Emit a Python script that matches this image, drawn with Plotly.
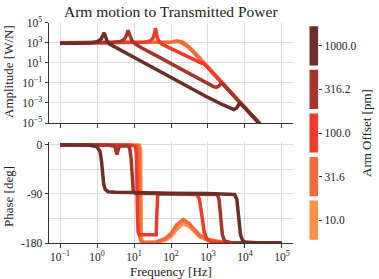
import plotly.graph_objects as go

# ---------------- data ----------------
offsets = ["10.0", "31.6", "100.0", "316.2", "1000.0"]
colors = ["#f8914a", "#f4693b", "#ee3b2a", "#a8352b", "#6b2e28"]

# amplitude [W/N] vs frequency [Hz]
f_amp_10 = [0.1, 10, 63.1, 100, 141, 174, 200, 240, 288, 355, 447, 562, 1000, 3162, 10000, 31623, 100000]
amp_10 = [1000, 1000, 1050, 1150, 1320, 1410, 1260, 891, 525, 240, 100, 40, 3.55, 0.0355, 3.55e-4, 3.55e-6, 3.55e-8]

f_amp_31 = [0.1, 10, 63.1, 100, 126, 148, 174, 209, 263, 324, 398, 501, 1000, 3162, 10000, 31623, 100000]
amp_31 = [1000, 1000, 1050, 1200, 1410, 1480, 1260, 891, 501, 263, 126, 50, 3.16, 0.0316, 3.16e-4, 3.16e-6, 3.16e-8]

f_amp_100 = [0.1, 10, 20, 28.2, 33.1, 36.3, 38.0, 39.8, 42.7, 47.9, 56.2, 100, 174, 324, 501, 603, 692, 759, 851, 1000, 3162, 10000, 31623, 100000]
amp_100 = [1000, 1000, 1120, 1580, 3160, 10000, 28200, 12600, 3160, 1260, 760, 263, 98, 31.6, 14.1, 9.5, 8.9, 9.5, 6.2, 3.24, 0.0324, 3.24e-4, 3.24e-6, 3.24e-8]

f_amp_316 = [0.1, 1.0, 2.51, 3.98, 5.25, 6.03, 6.61, 6.92, 7.24, 7.94, 8.91, 11.2, 15.8, 31.6, 100, 174, 324, 490, 794, 1122, 1413, 1698, 1995, 2291, 2512, 2818, 3162, 10000, 31623, 100000]
amp_316 = [950, 1000, 1050, 1260, 2000, 3980, 10000, 17800, 10000, 3160, 1410, 708, 316, 83, 8.3, 2.8, 0.79, 0.38, 0.141, 0.063, 0.042, 0.035, 0.050, 0.095, 0.083, 0.052, 0.032, 3.24e-4, 3.24e-6, 3.24e-8]

f_amp_1000 = [0.1, 0.316, 0.631, 1.0, 1.26, 1.41, 1.55, 1.66, 1.86, 2.24, 3.16, 5.62, 10, 31.6, 100, 174, 324, 1000, 2570, 3980, 5010, 6030, 7080, 7940, 8910, 10000, 31600, 100000]
amp_1000 = [890, 890, 955, 1260, 2240, 4470, 10000, 5010, 1580, 708, 355, 120, 35.5, 3.16, 0.316, 0.105, 0.030, 3.55e-3, 6.3e-4, 2.8e-4, 2.24e-4, 3.16e-4, 8.9e-4, 7.1e-4, 5.0e-4, 3.24e-4, 3.24e-6, 3.24e-8]

# phase [deg] vs frequency [Hz]
f_ph_10 = [0.1, 14.1, 15.1, 15.8, 17.0, 39.8, 69.2, 100, 141, 214, 316, 447, 603, 1000, 1549, 3162, 100000]
ph_10 = [0, -1, -10, -170, -179, -179, -175, -168, -155, -144, -150, -161, -169, -175, -177.5, -179, -180]

f_ph_31 = [0.1, 12.6, 13.8, 14.5, 15.8, 39.8, 69.2, 100, 141, 214, 316, 447, 603, 1000, 1549, 3162, 100000]
ph_31 = [0, -1, -10, -170, -179, -178, -172, -163, -147, -137, -145, -157, -166, -173, -176, -179, -180]

f_ph_100 = [0.1, 7.94, 11.0, 11.7, 12.3, 12.9, 13.8, 39.8, 40.7, 41.7, 43.7, 50.1, 501, 589, 692, 794, 933, 1259, 2512, 100000]
ph_100 = [0, -0.5, -3, -20, -120, -160, -165, -165, -140, -100, -92, -90, -91, -100, -130, -160, -173, -178, -179.5, -180]

f_ph_316 = [0.1, 2.0, 3.02, 3.31, 3.47, 3.63, 3.98, 6.31, 7.59, 8.32, 8.91, 9.55, 11.2, 100, 1413, 1778, 1995, 2239, 2455, 2818, 3981, 100000]
ph_316 = [0, -0.5, -3, -12, -18, -12, -3, -2, -5, -25, -65, -85, -89, -89.5, -90, -91, -100, -135, -165, -176, -179, -180]

f_ph_1000 = [0.1, 0.316, 0.631, 1.0, 1.2, 1.32, 1.41, 1.51, 1.66, 2.0, 3.16, 10, 100, 1000, 5250, 6030, 6920, 7590, 8710, 10000, 20000, 100000]
ph_1000 = [0, -0.5, -1, -4, -12, -30, -55, -72, -82, -86, -87, -88, -89, -89.5, -91, -100, -135, -165, -176, -178, -179.5, -180]

amp_freqs = [f_amp_10, f_amp_31, f_amp_100, f_amp_316, f_amp_1000]
amp_vals = [amp_10, amp_31, amp_100, amp_316, amp_1000]
ph_freqs = [f_ph_10, f_ph_31, f_ph_100, f_ph_316, f_ph_1000]
ph_vals = [ph_10, ph_31, ph_100, ph_316, ph_1000]

freq_ticks = [0.1, 1, 10, 100, 1000, 10000, 100000]
freq_ticktext = ["10<sup>−1</sup>", "10<sup>0</sup>", "10<sup>1</sup>", "10<sup>2</sup>",
                 "10<sup>3</sup>", "10<sup>4</sup>", "10<sup>5</sup>"]
amp_ticks = [1e5, 1e3, 1e1, 1e-1, 1e-3, 1e-5]
amp_ticktext = ["10<sup>5</sup>", "10<sup>3</sup>", "10<sup>1</sup>",
                "10<sup>−1</sup>", "10<sup>−3</sup>", "10<sup>−5</sup>"]
phase_ticks = [0, -90, -180]
phase_ticktext = ["0", "-90", "-180"]

# ---------------- figure ----------------
W, H = 379, 279
FONT = "Liberation Serif"
TXT = "#222222"
GRID = "#dcdcdc"
LINE = "#333333"

fig = go.Figure()
for i in range(len(offsets)):
    fig.add_trace(go.Scatter(x=amp_freqs[i], y=amp_vals[i], mode="lines",
                             line=dict(color=colors[i], width=3.5),
                             xaxis="x", yaxis="y", showlegend=False))
for i in range(len(offsets)):
    fig.add_trace(go.Scatter(x=ph_freqs[i], y=ph_vals[i], mode="lines",
                             line=dict(color=colors[i], width=3.5),
                             xaxis="x2", yaxis="y2", showlegend=False))

# discrete colour bar drawn as bars
fig.add_trace(go.Bar(y=offsets, x=[1] * len(offsets), orientation="h",
                     marker=dict(color=colors, line=dict(width=0)), width=0.9,
                     xaxis="x3", yaxis="y3", showlegend=False, hoverinfo="skip"))

xl, xr = 49 / W, 293 / W
top_dom = [1 - 123 / H, 1 - 22.7 / H]
bot_dom = [1 - 243 / H, 1 - 142 / H]

axis_common = dict(showline=True, linecolor=LINE, linewidth=1, mirror=False,
                   ticks="outside", ticklen=3.5, tickwidth=1, tickcolor=LINE,
                   gridcolor=GRID, gridwidth=1, zeroline=False, automargin=False,
                   tickfont=dict(family=FONT, size=11.5, color=TXT))


def label(text, xpx, ypx, size, angle=0):
    return dict(text=text, x=xpx / W, y=1 - ypx / H, textangle=angle,
                xref="paper", yref="paper", xanchor="center", yanchor="middle",
                showarrow=False, font=dict(family=FONT, size=size, color=TXT))


fig.update_layout(
    width=W, height=H, margin=dict(l=0, r=0, t=0, b=0, autoexpand=False),
    paper_bgcolor="white", plot_bgcolor="white",
    font=dict(family=FONT, color=TXT),
    xaxis=dict(type="log", range=[-1.3, 5.3], domain=[xl, xr], anchor="y",
               tickvals=freq_ticks, showticklabels=False, **axis_common),
    yaxis=dict(type="log", range=[-5, 5], domain=top_dom, anchor="x",
               tickvals=amp_ticks, ticktext=amp_ticktext, **axis_common),
    xaxis2=dict(type="log", range=[-1.3, 5.3], domain=[xl, xr], anchor="y2",
                tickvals=freq_ticks, ticktext=freq_ticktext, **axis_common),
    yaxis2=dict(range=[-180, 5], domain=bot_dom, anchor="x2",
                tickvals=phase_ticks, ticktext=phase_ticktext,
                minor=dict(tickvals=[-45, -135], showgrid=True, gridcolor=GRID, ticks=""),
                **axis_common),
    xaxis3=dict(range=[0, 1], domain=[309.3 / W, 318.3 / W], anchor="y3",
                visible=False, fixedrange=True, automargin=False),
    yaxis3=dict(type="category", categoryorder="array", categoryarray=offsets,
                range=[-0.5, 4.5], domain=[1 - 242 / H, 1 - 24 / H], anchor="x3",
                side="right", showline=False, showgrid=False, zeroline=False,
                automargin=False,
                ticks="outside", ticklen=3, tickwidth=1, tickcolor=LINE,
                tickfont=dict(family=FONT, size=11.5, color=TXT)),
    annotations=[
        label("Arm motion to Transmitted Power", 171, 12, 15.5),
        label("Amplitude [W/N]", 8, 72, 13, -90),
        label("Phase [deg]", 8, 197, 13, -90),
        label("Frequency [Hz]", 171, 271, 13),
        label("Arm Offset [pm]", 367, 133, 13, -90),
    ],
)

fig.write_html("out.html")
